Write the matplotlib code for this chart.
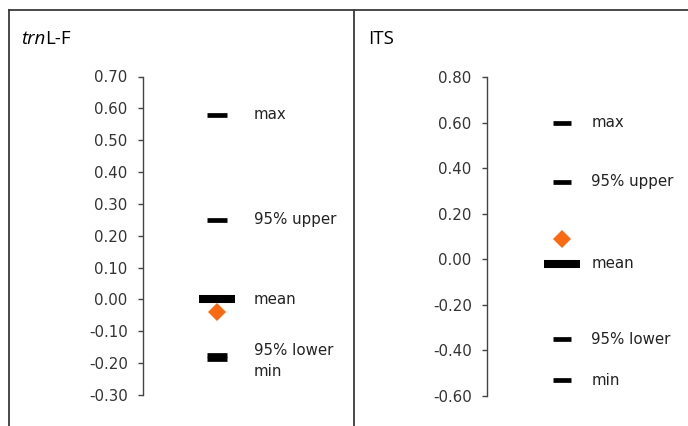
import matplotlib
matplotlib.use("Agg")
import matplotlib.pyplot as plt
from matplotlib.lines import Line2D
from matplotlib.text import Annotation
from matplotlib.ticker import FormatStrFormatter
import numpy as np

# values
stat_names = ["max", "95% upper", "mean", "95% lower", "min"]
trnlf_stats = [0.58, 0.25, 0.0, -0.173, -0.187]
trnlf_point = -0.04
its_stats = [0.60, 0.34, -0.02, -0.35, -0.53]
its_point = 0.09

trnlf_ticks = [-0.30, -0.20, -0.10, 0.00, 0.10, 0.20, 0.30, 0.40, 0.50, 0.60, 0.70]
its_ticks = [-0.60, -0.40, -0.20, 0.00, 0.20, 0.40, 0.60, 0.80]

W, H = 688, 426
fig = plt.figure(figsize=(W / 100, H / 100), dpi=100)

frame_col = "#3a3a3a"
# panel frames (top line, left edge, divider)
fig.add_artist(Line2D([9 / W, 1], [1 - 10 / H, 1 - 10 / H], color=frame_col, lw=1.3))
fig.add_artist(Line2D([9 / W, 9 / W], [0, 1 - 10 / H], color=frame_col, lw=1.3))
fig.add_artist(Line2D([354 / W, 354 / W], [0, 1 - 10 / H], color=frame_col, lw=1.3))

# panel titles
t1 = fig.text(21 / W, 1 - 44 / H, "trn", fontstyle="italic", family="Open Sans",
              fontsize=13.5, va="baseline", ha="left")
fig.add_artist(Annotation("L-F", xy=(1, 0), xycoords=t1, va="bottom", ha="left",
                          family="Open Sans", fontsize=13.5))
fig.text(368 / W, 1 - 44 / H, "ITS", family="Open Sans", fontsize=13.5,
         va="baseline", ha="left")


def draw_panel(rect, stats, point, ticks, mx, lx, dash_ms, mean_ms, nudges):
    ax = fig.add_axes(rect)
    ax.set_xlim(0, 1)
    ax.set_ylim(ticks[0], ticks[-1])
    ax.set_yticks(ticks)
    ax.yaxis.set_major_formatter(FormatStrFormatter("%.2f"))
    for s in ["top", "right", "bottom"]:
        ax.spines[s].set_visible(False)
    ax.spines["left"].set_color("#444444")
    ax.spines["left"].set_linewidth(1.0)
    ax.set_xticks([])
    ax.tick_params(axis="y", direction="out", length=3.8, width=1.0,
                   color="#444444", pad=7.0, labelsize=10.8)
    for lab in ax.get_yticklabels():
        lab.set_family("DejaVu Sans")
        lab.set_color("#333333")
    ax.patch.set_alpha(0)

    ax.plot([mx], [point], marker="D", ms=9.2, color="#fa6a12", mew=0,
            ls="none", zorder=2, clip_on=False)
    for name, v in zip(stat_names, stats):
        if name == "mean":
            ax.plot([mx], [v], marker="_", ms=mean_ms, mew=5.8, color="black",
                    ls="none", zorder=3, clip_on=False)
        else:
            ax.plot([mx], [v], marker="_", ms=dash_ms, mew=3.4, color="black",
                    ls="none", zorder=3, clip_on=False)
        ax.annotate(name, xy=(lx, v), xytext=(0, nudges.get(name, 0)),
                    textcoords="offset points", va="center", ha="left",
                    family="DejaVu Sans", fontsize=10.8, color="#222222",
                    annotation_clip=False)
    return ax


draw_panel([142.7 / W, 1 - 395 / H, (354 - 142.7) / W, 318.5 / H],
           trnlf_stats, trnlf_point, trnlf_ticks, 0.352, 0.527, 13.7, 26.6,
           {"95% lower": 3.0, "min": -9.0})
draw_panel([486.7 / W, 1 - 396 / H, (688 - 486.7) / W, 319 / H],
           its_stats, its_point, its_ticks, 0.374, 0.52, 12.5, 26.0, {})

fig.savefig("out.png", dpi=100)
